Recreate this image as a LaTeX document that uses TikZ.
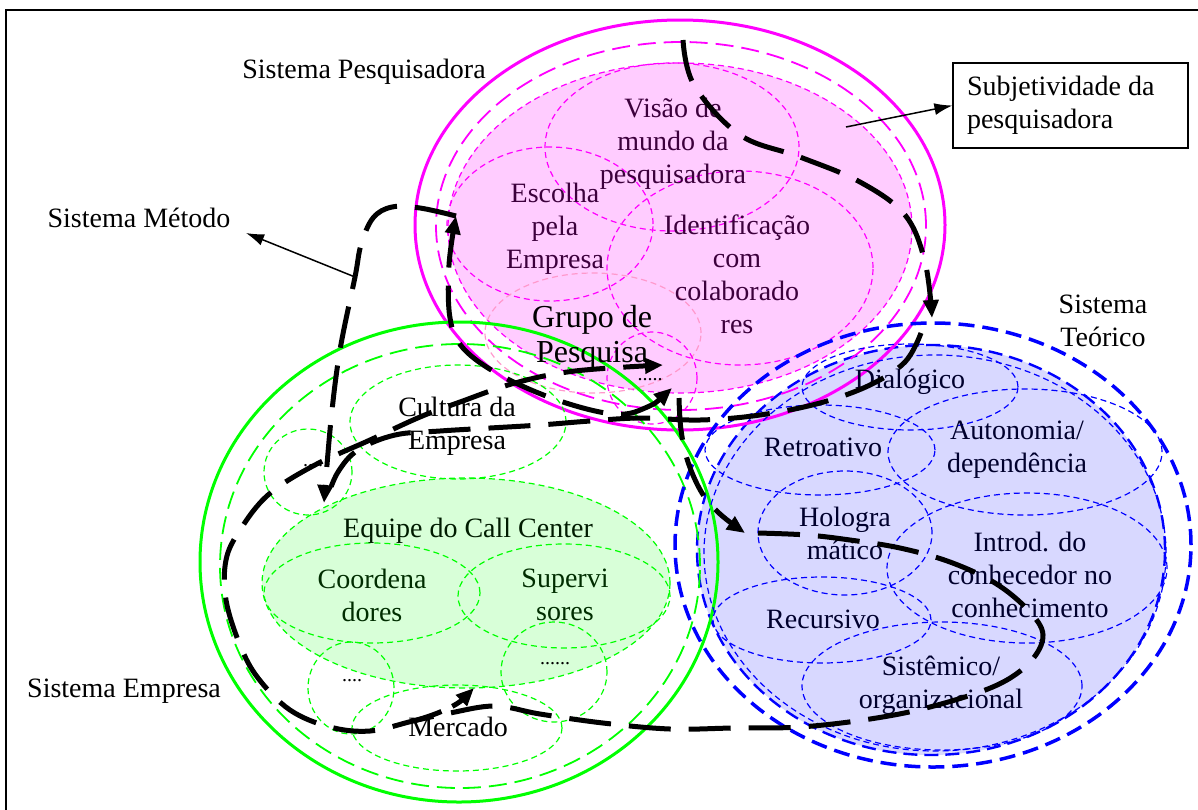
\documentclass[tikz,border=0pt]{standalone}
\usepackage{fontspec}
\setmainfont{Liberation Serif}
\usetikzlibrary{arrows.meta,shapes.geometric}
\definecolor{mag}{RGB}{255,0,255}
\definecolor{grn}{RGB}{0,255,0}
\definecolor{blu}{RGB}{0,0,255}
\definecolor{pinkfill}{RGB}{255,204,255}
\definecolor{greenfill}{RGB}{216,255,216}
\definecolor{bluefill}{RGB}{216,216,255}
\definecolor{lpink}{RGB}{255,153,204}
\definecolor{ptext}{RGB}{60,0,60}
\definecolor{gtext}{RGB}{0,45,0}
\definecolor{btext}{RGB}{0,0,45}
\begin{document}
\begin{tikzpicture}[x=1pt,y=-1pt,
  ell/.style={ellipse, inner sep=0pt, outer sep=0pt},
  solidline/.style={ell, line width=3pt},
  longd/.style={ell, line width=1.8pt, dash pattern=on 18pt off 8pt},
  shortd/.style={ell, line width=1.2pt, dash pattern=on 6pt off 4pt},
  thickd/.style={ell, line width=3.5pt, dash pattern=on 16pt off 8pt},
  medd/.style={ell, line width=2.4pt, dash pattern=on 14pt off 7pt},
  lbl/.style={font=\fontsize{28}{33}\selectfont, align=center, inner sep=0pt},
  blk/.style={line width=5pt, dash pattern=on 42pt off 18pt},
  tip/.style={-{Triangle[length=18pt,width=15pt]}},
  thn/.style={line width=1.5pt, -{Latex[length=18pt,width=12pt]}},
]
\useasboundingbox (0,0) rectangle (1198,809);
\clip (0,0) rectangle (1198,809);
% frame
\draw[line width=2pt] (6,815) -- (6,10) -- (1200,10);

% ---------- fills ----------
\node[shortd, draw=mag, fill=pinkfill, minimum width=464pt, minimum height=330pt] (pFill) at (680,228) {};
\node[shortd, draw=grn, fill=greenfill, minimum width=408pt, minimum height=210pt] (gEq) at (466,583) {};
\node[medd, draw=blu, fill=bluefill, minimum width=468pt, minimum height=410pt] (bFill) at (931,550) {};

% ---------- pink system ----------
\node[solidline, draw=mag, minimum width=530pt, minimum height=410pt] (pOut) at (680,225) {};
\node[longd, draw=mag, minimum width=490pt, minimum height=368pt] (pLong) at (681,226) {};
\node[shortd, draw=mag, minimum width=254pt, minimum height=168pt] (pVis) at (672,147) {};
\node[shortd, draw=mag, minimum width=206pt, minimum height=154pt] (pEsc) at (550,224) {};
\node[shortd, draw=mag, minimum width=266pt, minimum height=194pt] (pIde) at (740,268) {};
\node[shortd, draw=lpink, minimum width=216pt, minimum height=120pt] (pGru) at (593,333) {};
\node[shortd, draw=mag, minimum width=90pt, minimum height=92pt] (pDot) at (652,378) {};

% ---------- green system ----------
\node[solidline, draw=grn, minimum width=518pt, minimum height=480pt] (gOut) at (459,562) {};
\node[longd, draw=grn, minimum width=480pt, minimum height=444pt] (gLong) at (460,566) {};
\node[shortd, draw=grn, minimum width=216pt, minimum height=114pt] (gCul) at (458,422) {};
\node[shortd, draw=grn, minimum width=88pt, minimum height=86pt] (gDotL) at (308,472) {};
\node[shortd, draw=grn, minimum width=216pt, minimum height=100pt] (gCoo) at (372,593) {};
\node[shortd, draw=grn, minimum width=212pt, minimum height=104pt] (gSup) at (564,596) {};
\node[shortd, draw=grn, minimum width=86pt, minimum height=92pt] (gDotB) at (351,688) {};
\node[shortd, draw=grn, minimum width=106pt, minimum height=100pt] (gDotR) at (554,672) {};
\node[shortd, draw=grn, minimum width=210pt, minimum height=86pt] (gMer) at (457,728) {};

% ---------- blue system ----------
\node[thickd, draw=blu, minimum width=516pt, minimum height=444pt] (bOut) at (933,545) {};
\node[shortd, draw=blu, minimum width=462pt, minimum height=396pt] (bIn) at (935,553) {};
\node[shortd, draw=blu, minimum width=216pt, minimum height=86pt] (bDia) at (910,387) {};
\node[shortd, draw=blu, minimum width=230pt, minimum height=90pt] (bRet) at (820,450) {};
\node[shortd, draw=blu, minimum width=274pt, minimum height=126pt] (bAut) at (1025,452) {};
\node[shortd, draw=blu, minimum width=174pt, minimum height=124pt] (bHol) at (845,533) {};
\node[shortd, draw=blu, minimum width=280pt, minimum height=150pt] (bInt) at (1027,568) {};
\node[shortd, draw=blu, minimum width=218pt, minimum height=86pt] (bRec) at (822,620) {};
\node[shortd, draw=blu, minimum width=280pt, minimum height=128pt] (bSis) at (942,686) {};

% ---------- labels ----------
\node[lbl] (tPes) at (364,72) {Sistema Pesquisadora};
\node[lbl] (tMet) at (139,218) {Sistema Método};
\node[lbl] (tEmp) at (124,691) {Sistema Empresa};
\node[lbl] (tTeo) at (1103,321) {Sistema\\Teórico};
\node[draw, line width=1.2pt, minimum width=235pt, minimum height=85pt, text width=207pt,
      align=flush left, inner sep=0pt, font=\fontsize{28}{33}\selectfont] (subj) at (1070.5,105.5)
      {Subjetividade da\\pesquisadora};

\node[lbl, text=ptext] (tVis) at (673,144) {Visão de\\mundo da\\pesquisadora};
\node[lbl, text=ptext] (tEsc) at (555,229) {Escolha\\pela\\Empresa};
\node[lbl, text=ptext] (tIde) at (737,274) {Identificação\\com\\colaborado\\res};
\node[lbl, font=\fontsize{32}{35}\selectfont] (tGru) at (592,337) {Grupo de\\Pesquisa};
\node[lbl, font=\fontsize{20}{24}\selectfont] (tDotP) at (650,380) {.....};

\node[lbl] (tCul) at (457,426) {Cultura da\\Empresa};
\node[lbl, font=\fontsize{20}{24}\selectfont] (tDotL) at (313,466) {....};
\node[lbl, text=gtext!60!black] (tEq) at (468,531) {Equipe do Call Center};
\node[lbl, text=gtext] (tCoo) at (372,595) {Coordena\\dores};
\node[lbl, text=gtext] (tSup) at (565,595) {Supervi\\sores};
\node[lbl, font=\fontsize{20}{24}\selectfont] (tDotB) at (352,681) {....};
\node[lbl, font=\fontsize{20}{24}\selectfont] (tDotR) at (555,664) {......};
\node[lbl] (tMer) at (458,727) {Mercado};

\node[lbl, text=btext] (tDia) at (910,382) {Dialógico};
\node[lbl, text=btext] (tRet) at (823,447) {Retroativo};
\node[lbl, text=btext] (tAut) at (1017,450) {Autonomia/\\dependência};
\node[lbl, text=btext] (tHol) at (845,533) {Hologra\\mático};
\node[lbl, text=btext] (tInt) at (1030,575) {Introd. do\\conhecedor no\\conhecimento};
\node[lbl, text=btext] (tRec) at (823,619) {Recursivo};
\node[lbl, text=btext] (tSis) at (941,685) {Sistêmico/\\organizacional};

% ---------- connector coordinates ----------
\coordinate (a1) at (683,40);
\coordinate (a1e) at (932,318);
\coordinate (a2) at (921,333);
\coordinate (a2e) at (327,498);
\coordinate (esc) at (456,216);
\coordinate (dotp) at (672,388);
\coordinate (holo) at (745,533);
\coordinate (holo2) at (758,533);
\coordinate (grp) at (663,365);
\coordinate (eq) at (324,503);
\coordinate (mer) at (474,688);
\coordinate (metf) at (355,277);
\coordinate (metarr) at (246,233);
\coordinate (pinkarr) at (846,127);
\coordinate (holo0) at (679,398);
\coordinate (merst) at (413,721);

% ---------- thick dashed method paths ----------
\draw[blk, tip] plot[smooth, tension=0.6] coordinates {(a1) (694,85) (740,135) (800,157) (860,182) (905,215) (925,262) (a1e)};
\draw[blk] plot[smooth, tension=0.6] coordinates {(a2) (905,362) (870,385) (820,403) (760,415) (700,420) (640,418) (590,421) (540,425) (490,428) (440,431) (395,435) (358,450) (338,472) (a2e)};
\draw[blk, {Triangle[length=18pt,width=15pt]}-{Triangle[length=18pt,width=15pt]}] plot[smooth, tension=0.6] coordinates {(dotp) (645,408) (613,414) (557,400) (500,375) (463,348) (450,318) (449,265) (esc)};
\draw[blk, tip] plot[smooth, tension=0.6] coordinates {(holo0) (681,430) (688,462) (702,493) (720,514) (holo)};
\draw[blk, tip] plot[smooth, tension=0.6] coordinates {(esc) (420,208) (392,207) (373,218) (361,245) (metf) (340,350) (331,420) (eq)};
\draw[blk, tip] plot[smooth, tension=0.6] coordinates {(holo2) (807,535) (850,540) (900,548) (950,562) (995,583) (1028,610) (1043,635) (1030,662) (995,686) (930,707) (870,719) (800,727) (733,728) (670,729) (603,723) (540,714) (495,706) (450,713) (merst) (370,731) (330,727) (290,710) (258,678) (240,645) (226,600) (226,560) (240,530) (268,495) (313,466) (370,440) (420,417) (460,402) (515,383) (575,371) (grp)};
\draw[line width=5pt, dash pattern=on 30pt off 12pt, tip] (merst) .. controls (440,714) and (458,704) .. (mer);

% ---------- thin arrows ----------
\draw[thn] (metf) -- (metarr);
\draw[thn] (pinkarr) -- (subj.west);
\end{tikzpicture}
\end{document}
